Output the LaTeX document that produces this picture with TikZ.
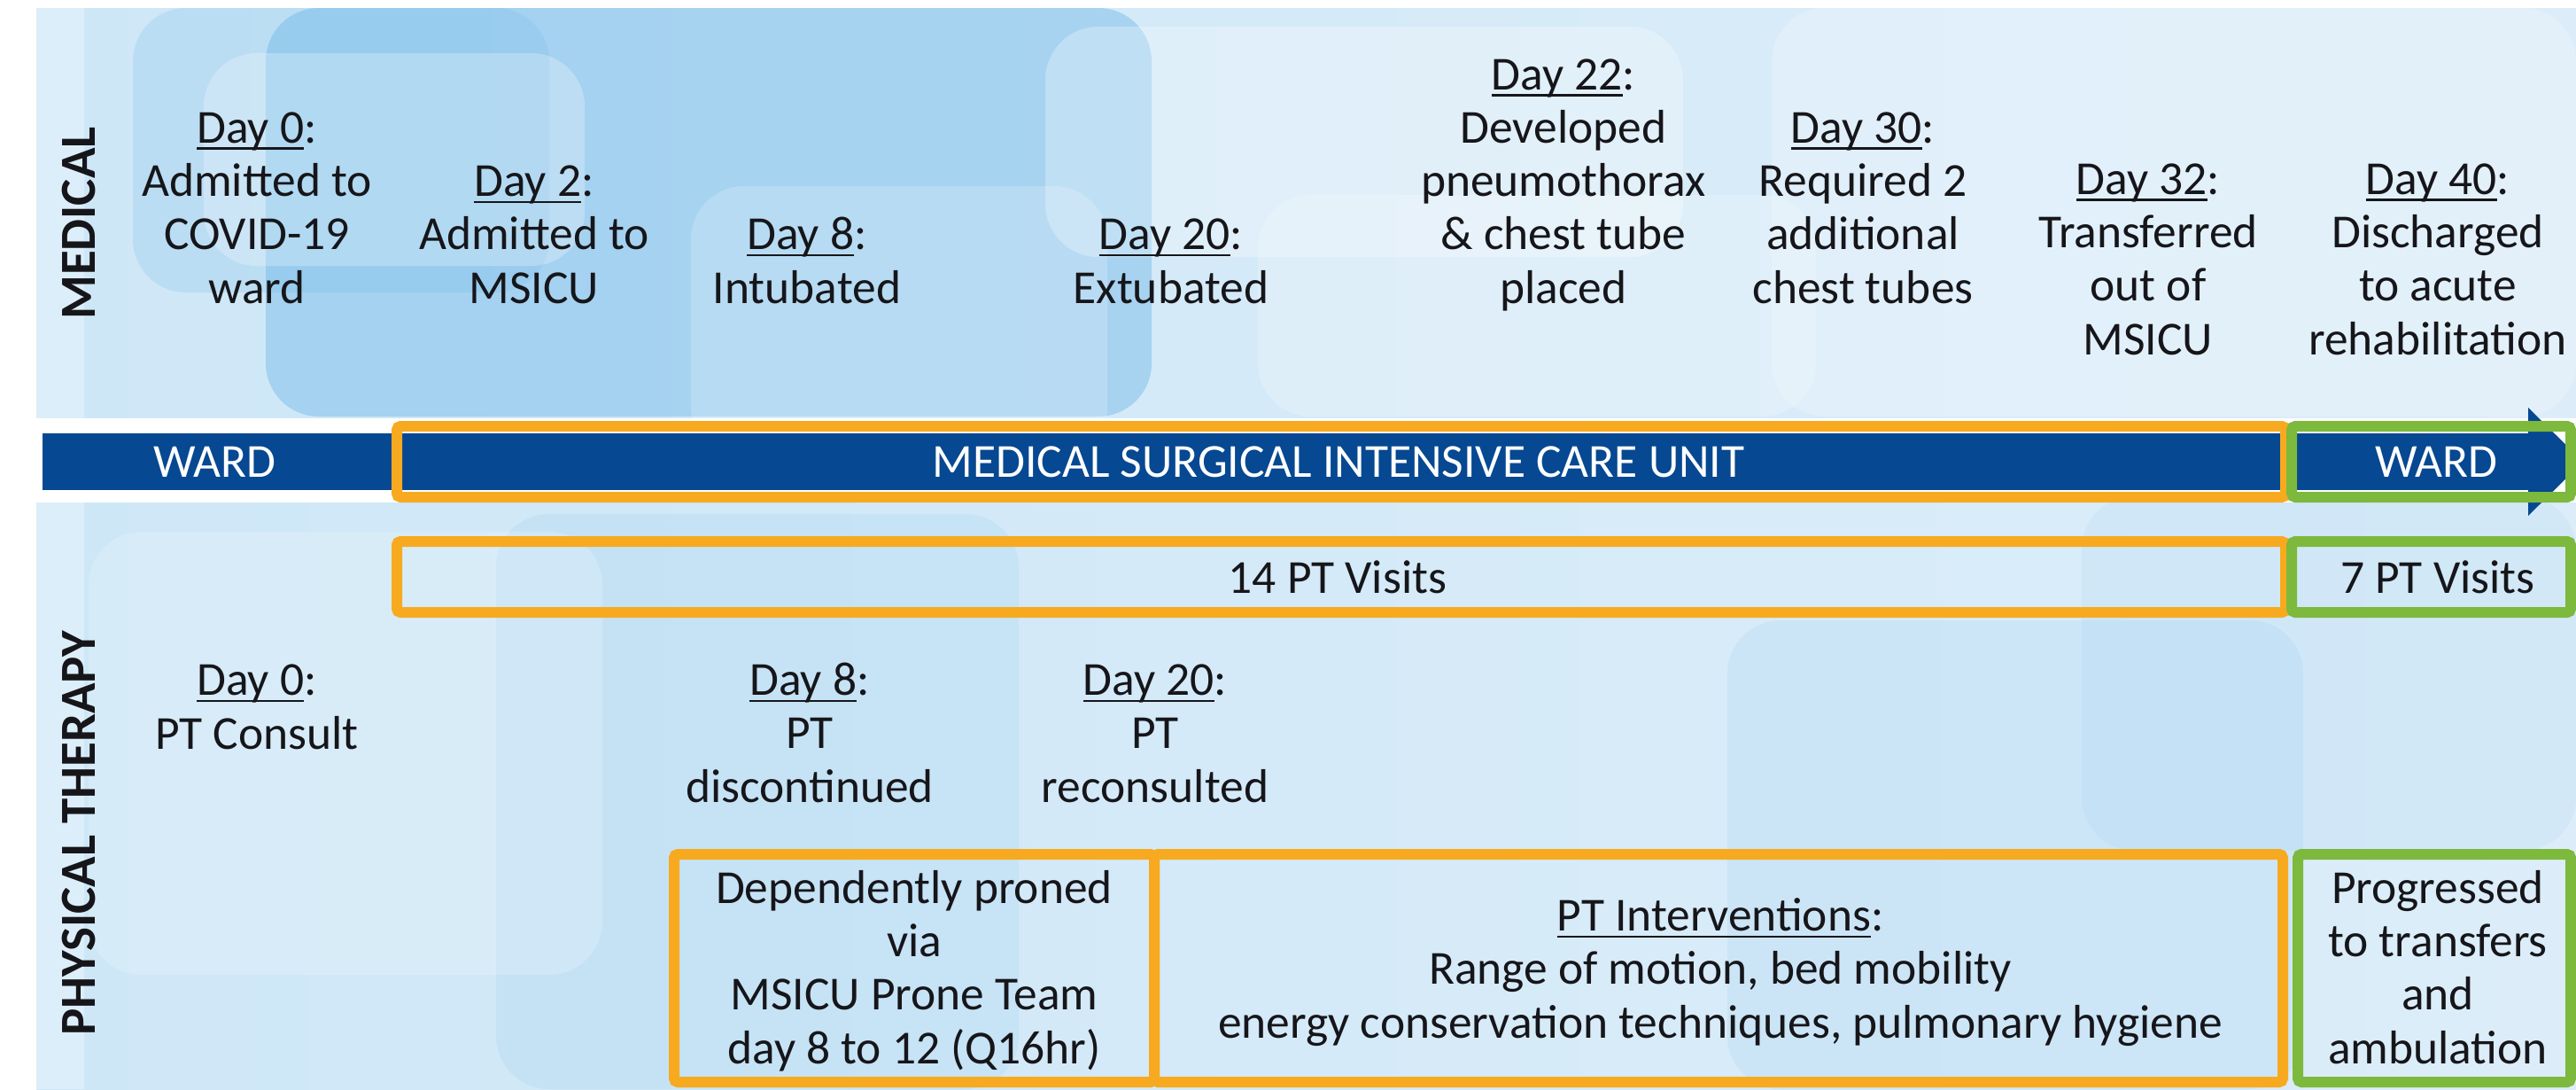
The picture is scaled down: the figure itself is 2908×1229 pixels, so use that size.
\documentclass[tikz,border=0pt]{standalone}
\usepackage{fontspec}
\setmainfont{Carlito}

\definecolor{bandblue}{RGB}{6,72,145}
\definecolor{frameorange}{RGB}{247,170,32}
\definecolor{framegreen}{RGB}{124,185,60}
\definecolor{inkblack}{RGB}{22,22,26}
\definecolor{paleblue}{RGB}{206,231,247}
\definecolor{paleright}{RGB}{220,237,249}
\definecolor{deepsky}{RGB}{100,178,230}

% underlined day label, rule crossing the descenders
\newcommand\dayul[1]{\setbox0\hbox{#1}\rlap{\rule[-0.14em]{\wd0}{0.055em}}\box0}
% centred stack of lines whose baseline is the last line
\newcommand\colstack[1]{\begin{tabular}[b]{@{}c@{}}#1\end{tabular}}

\tikzset{
  txt/.style={inner sep=0pt, anchor=base, text=inkblack,
    font=\fontsize{15.2}{17.07}\selectfont},
  bandtxt/.style={txt, text=white},
  sidelabel/.style={inner sep=0pt, anchor=center, rotate=90, text=inkblack,
    font=\fontsize{16.2}{18}\selectfont\bfseries},
  orangeframe/.style={draw=frameorange, line width=0.12cm, rounded corners=1.2pt},
  greenframe/.style={draw=framegreen, line width=0.12cm, rounded corners=1.2pt},
  tile/.style={rounded corners=0.6cm},
}

\begin{document}
\begin{tikzpicture}[x=0.01cm, y=-0.01cm]
\useasboundingbox (0,0) rectangle (2908,1229);
\clip (0,0) rectangle (2908,1229);
\fill[white] (0,0) rectangle (2908,1229);

% ---- backdrop: pale blue with translucent rounded tiles
\shade[left color=paleblue, right color=paleright] (41,9) rectangle (2908,1229);
\fill[white, opacity=0.30] (41,9) rectangle (95,1229);
\fill[deepsky, opacity=0.40, tile] (300,9) rectangle (1300,470);
\fill[deepsky, opacity=0.18, tile] (150,9) rectangle (620,330);
\fill[white, opacity=0.26, tile] (230,60) rectangle (660,300);
\fill[white, opacity=0.20, tile] (780,210) rectangle (1250,520);
\fill[white, opacity=0.28, tile] (1180,30) rectangle (1900,290);
\fill[white, opacity=0.22, tile] (1420,220) rectangle (2050,470);
\fill[white, opacity=0.22, tile] (2000,9) rectangle (2908,470);
\fill[deepsky, opacity=0.10, tile] (560,580) rectangle (1150,1229);
\fill[deepsky, opacity=0.10, tile] (1950,700) rectangle (2600,1229);
\fill[white, opacity=0.18, tile] (100,600) rectangle (680,1100);
\fill[deepsky, opacity=0.08, tile] (2350,560) rectangle (2908,960);

% ---- timeline band with arrow head
\fill[white] (41,472) rectangle (2908,567);
\fill[bandblue] (48,489) rectangle (2858,553);
\fill[bandblue] (2854,460) -- (2916,521) -- (2854,582) -- cycle;

% ---- frames
\draw[orangeframe] (448,481) rectangle (2580,561);
\draw[greenframe] (2587,481) rectangle (2902,561);
\draw[orangeframe] (448,611) rectangle (2580,691);
\draw[greenframe] (2587,611) rectangle (2902,691);
\draw[orangeframe] (761,964) rectangle (1303,1221);
\draw[orangeframe] (1303,964) rectangle (2577,1221);
\draw[greenframe] (2594,964) rectangle (2902,1221);

% ---- side labels
\node[sidelabel] (lblmed) at (89,252) {MEDICAL};
\node[sidelabel] (lblpt) at (89,940) {PHYSICAL THERAPY};

% ---- medical events
\node[txt] (m0) at (290,342) {\colstack{\dayul{Day 0}:\\Admitted to\\COVID-19\\ward}};
\node[txt] (m2) at (603,342) {\colstack{\dayul{Day 2}:\\Admitted to\\MSICU}};
\node[txt] (m8) at (911,342) {\colstack{\dayul{Day 8}:\\Intubated}};
\node[txt] (m20) at (1322,342) {\colstack{\dayul{Day 20}:\\Extubated}};
\node[txt] (m22) at (1765,342) {\colstack{\dayul{Day 22}:\\Developed\\pneumothorax\\\& chest tube\\placed}};
\node[txt] (m30) at (2103,342) {\colstack{\dayul{Day 30}:\\Required 2\\additional\\chest tubes}};
\node[txt] (m32) at (2425,400) {\colstack{\dayul{Day 32}:\\Transferred\\out of\\MSICU}};
\node[txt] (m40) at (2752,400) {\colstack{\dayul{Day 40}:\\Discharged\\to acute\\rehabilitation}};

% ---- band labels
\node[bandtxt] (ward1) at (242,538) {WARD};
\node[bandtxt] (icu) at (1511,538) {MEDICAL SURGICAL INTENSIVE CARE UNIT};
\node[bandtxt] (ward2) at (2750,538) {WARD};

% ---- visit counts
\node[txt] (v14) at (1510,669) {14 PT Visits};
\node[txt] (v7) at (2752,669) {7 PT Visits};

% ---- physical therapy events
\node[txt] (p0) at (290,845) {\colstack{\dayul{Day 0}:\\PT Consult}};
\node[txt] (p8) at (914,905) {\colstack{\dayul{Day 8}:\\PT\\discontinued}};
\node[txt] (p20) at (1304,905) {\colstack{\dayul{Day 20}:\\PT\\reconsulted}};

% ---- boxed notes
\node[txt] (b1) at (1032,1200) {\colstack{Dependently proned\\via\\MSICU Prone Team\\day 8 to 12 (Q16hr)}};
\node[txt] (b2) at (1942,1171) {\colstack{\dayul{PT Interventions}:\\Range of motion, bed mobility\\energy conservation techniques, pulmonary hygiene}};
\node[txt] (b3) at (2752,1200) {\colstack{Progressed\\to transfers\\and\\ambulation}};
\end{tikzpicture}
\end{document}
